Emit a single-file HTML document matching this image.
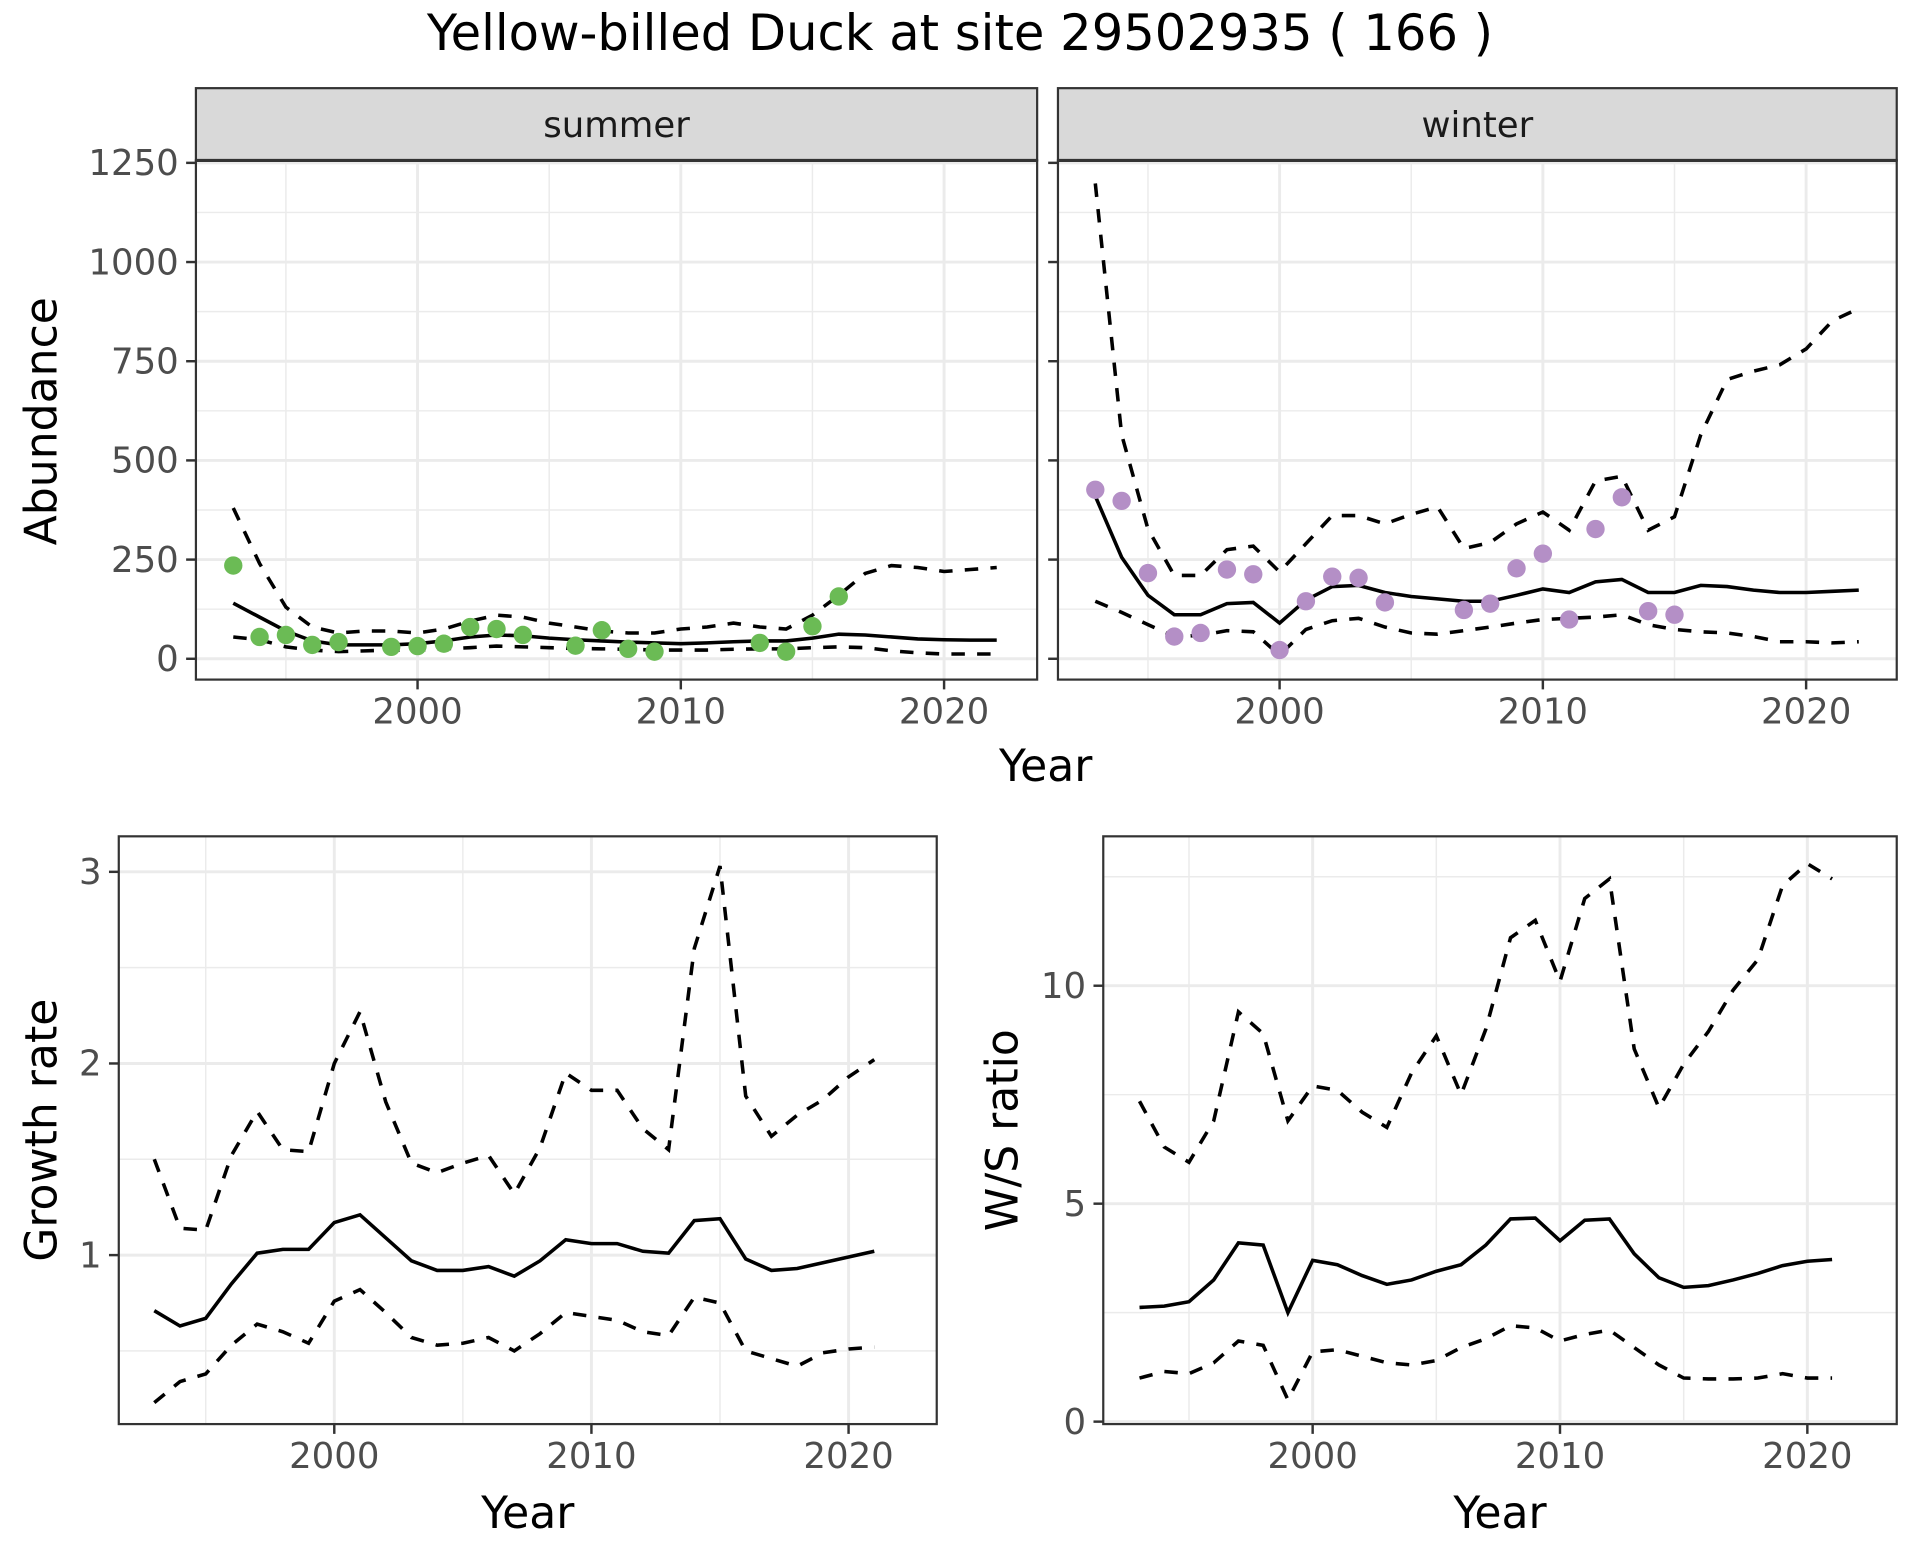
<!DOCTYPE html>
<html><head><meta charset="utf-8"><style>
html,body{margin:0;padding:0;background:#fff;}
svg{display:block;font-family:"DejaVu Sans","Liberation Sans",sans-serif;}
</style></head><body>
<svg id="chart" width="1920" height="1560" viewBox="0 0 1568 1274" xmlns="http://www.w3.org/2000/svg">
<rect width="1568" height="1274" fill="#fff"/>
<text x="784" y="41" font-size="40.5" text-anchor="middle" fill="#000">Yellow-billed Duck at site 29502935 ( 166 )</text>
</svg>
<script>
const yearsAll = [1993,1994,1995,1996,1997,1998,1999,2000,2001,2002,2003,2004,2005,2006,2007,2008,2009,2010,2011,2012,2013,2014,2015,2016,2017,2018,2019,2020,2021,2022];
const summerPtYears = [1993,1994,1995,1996,1997,1999,2000,2001,2002,2003,2004,2006,2007,2008,2009,2013,2014,2015,2016];
const summerPtVals = [235,55,60,35,42,30,32,38,80,75,60,33,72,25,18,40,18,82,157];
const summerMean = [140,105,70,45,35,35,35,38,45,55,60,58,52,48,45,42,40,38,40,43,45,45,52,62,60,55,50,48,47,47];
const summerUpper = [380,240,130,80,65,70,70,65,75,95,110,105,90,80,70,65,65,75,80,90,80,75,110,160,215,235,230,220,225,230];
const summerLower = [55,48,30,22,18,20,22,22,25,28,32,30,28,26,25,24,22,22,22,24,25,25,28,30,28,20,15,12,12,12];
const winterPtYears = [1993,1994,1995,1996,1997,1998,1999,2000,2001,2002,2003,2004,2007,2008,2009,2010,2011,2012,2013,2014,2015];
const winterPtVals = [426,398,216,56,65,225,213,22,145,207,204,142,123,139,228,265,99,327,407,120,111];
const winterMean = [410,256,160,111,111,139,142,90,148,182,185,167,157,151,145,145,160,176,167,194,200,167,167,185,182,173,167,167,170,173];
const winterUpper = [1198,565,327,210,210,275,284,219,290,361,361,340,364,383,278,293,340,370,324,448,460,324,358,565,704,725,741,781,852,883];
const winterLower = [145,117,86,56,59,71,68,9,74,96,102,80,65,62,71,80,90,99,102,105,111,86,74,68,65,56,43,43,40,43];
const abTicks = [0,250,500,750,1000,1250];
const yearTicks = [2000,2010,2020];
const gYears = [1993,1994,1995,1996,1997,1998,1999,2000,2001,2002,2003,2004,2005,2006,2007,2008,2009,2010,2011,2012,2013,2014,2015,2016,2017,2018,2019,2020,2021];
const growthMean = [0.71,0.63,0.67,0.85,1.01,1.03,1.03,1.17,1.21,1.09,0.97,0.92,0.92,0.94,0.89,0.97,1.08,1.06,1.06,1.02,1.01,1.18,1.19,0.98,0.92,0.93,0.96,0.99,1.02];
const growthUpper = [1.5,1.14,1.13,1.52,1.75,1.55,1.54,2.0,2.27,1.8,1.48,1.43,1.48,1.52,1.32,1.56,1.95,1.86,1.86,1.66,1.55,2.6,3.03,1.83,1.62,1.73,1.81,1.93,2.02];
const growthLower = [0.23,0.34,0.38,0.53,0.64,0.6,0.54,0.76,0.82,0.7,0.57,0.53,0.54,0.57,0.5,0.59,0.7,0.68,0.66,0.6,0.58,0.78,0.75,0.5,0.46,0.42,0.49,0.51,0.52];
const growthTicks = [1,2,3];
const wsMean = [2.62,2.65,2.75,3.25,4.1,4.05,2.5,3.7,3.6,3.35,3.15,3.25,3.45,3.6,4.05,4.65,4.67,4.15,4.62,4.65,3.85,3.3,3.08,3.12,3.25,3.4,3.58,3.68,3.72];
const wsUpper = [7.35,6.3,5.95,6.9,9.4,8.9,6.9,7.7,7.6,7.1,6.75,8.0,8.85,7.5,9.0,11.1,11.5,10.1,12.0,12.45,8.55,7.2,8.2,8.95,9.9,10.6,12.3,12.8,12.45];
const wsLower = [1.0,1.15,1.1,1.35,1.85,1.75,0.5,1.6,1.65,1.5,1.35,1.3,1.4,1.7,1.9,2.2,2.15,1.85,2.0,2.1,1.7,1.3,1.0,0.98,0.98,1.0,1.1,1.0,1.0];
const wsTicks = [0,5,10];

const NS = "http://www.w3.org/2000/svg";
const svg = document.getElementById('chart');
const TICKFS = 29;
function mk(tag, attrs, parent){
  const e = document.createElementNS(NS, tag);
  for (const k in attrs) e.setAttribute(k, attrs[k]);
  (parent||svg).appendChild(e);
  return e;
}
function lin(d0,d1,r0,r1){ return v => r0 + (v-d0)*(r1-r0)/(d1-d0); }

function panel(o){
  const g = mk('g', {});
  
  
  const {x0,x1,y0,y1,sx,sy} = o;
  o.xMinor.forEach(v=>{ const x=sx(v); mk('line',{x1:x,x2:x,y1:y0,y2:y1,stroke:'#EBEBEB','stroke-width':1.2},g); });
  o.yMinor.forEach(v=>{ const y=sy(v); if(y>y0&&y<y1) mk('line',{x1:x0,x2:x1,y1:y,y2:y,stroke:'#EBEBEB','stroke-width':1.2},g); });
  o.xTicks.forEach(v=>{ const x=sx(v); mk('line',{x1:x,x2:x,y1:y0,y2:y1,stroke:'#EBEBEB','stroke-width':2.4},g); });
  o.yTicks.forEach(v=>{ const y=sy(v); mk('line',{x1:x0,x2:x1,y1:y,y2:y,stroke:'#EBEBEB','stroke-width':2.4},g); });
  o.lines.forEach(L=>{
    const p = mk('polyline',{points:L.xs.map((v,i)=>sx(v)+','+sy(L.ys[i])).join(' '),fill:'none',stroke:'#000','stroke-width':2.9,'stroke-dasharray':L.dash?'11,10':'none'},g);
    
    
  });
  if (o.pts) o.pts.xs.forEach((v,i)=>{
    const c = mk('circle',{cx:sx(v),cy:sy(o.pts.ys[i]),r:7.5,fill:o.pts.color},g);
    
    
  });
  mk('rect',{x:x0,y:y0,width:x1-x0,height:y1-y0,fill:'none',stroke:'#333','stroke-width':1.8},g);
  o.xTicks.forEach(v=>{ const x=sx(v); mk('line',{x1:x,x2:x,y1:y1,y2:y1+8,stroke:'#333','stroke-width':2},g);
    const t=mk('text',{x:x,y:y1+36,'font-size':TICKFS,fill:'#4D4D4D','text-anchor':'middle'},g); t.textContent=v;
      });
  o.yTicks.forEach(v=>{ const y=sy(v); mk('line',{x1:x0-8,x2:x0,y1:y,y2:y,stroke:'#333','stroke-width':2},g);
    if (o.yLabels){ const t=mk('text',{x:x0-14,y:y+10,'font-size':TICKFS,fill:'#4D4D4D','text-anchor':'end'},g); t.textContent=v;
      } });
  if (o.strip){
    const s = mk('rect',{x:x0,y:72,width:x1-x0,height:y0-72,fill:'#D9D9D9',stroke:'#333','stroke-width':1.8},g);
    
    
    mk('line',{x1:x0,x2:x1,y1:y0,y2:y0,stroke:'#333','stroke-width':2.6},g);
    const t=mk('text',{x:(x0+x1)/2,y:112,'font-size':TICKFS,fill:'#1A1A1A','text-anchor':'middle'},g); t.textContent=o.strip;
     
  }
}

const syTop = lin(0,1250,538,133);
panel({name:'summer-panel',strip:'summer',x0:160,x1:847,y0:131,y1:555,sx:lin(2000,2010,341,556),sy:syTop,
  xTicks:yearTicks,xMinor:[1995,2005,2015],yTicks:abTicks,yMinor:[125,375,625,875,1125],yLabels:true,
  lines:[{name:'summer-mean',xs:yearsAll,ys:summerMean},{name:'summer-upper',xs:yearsAll,ys:summerUpper,dash:1},{name:'summer-lower',xs:yearsAll,ys:summerLower,dash:1}],
  pts:{xs:summerPtYears,ys:summerPtVals,color:'#6BBB55'}});
panel({name:'winter-panel',strip:'winter',x0:864,x1:1549,y0:131,y1:555,sx:lin(2000,2010,1045,1260),sy:syTop,
  xTicks:yearTicks,xMinor:[1995,2005,2015],yTicks:abTicks,yMinor:[125,375,625,875,1125],yLabels:false,
  lines:[{name:'winter-mean',xs:yearsAll,ys:winterMean},{name:'winter-upper',xs:yearsAll,ys:winterUpper,dash:1},{name:'winter-lower',xs:yearsAll,ys:winterLower,dash:1}],
  pts:{xs:winterPtYears,ys:winterPtVals,color:'#B48FC6'}});
panel({name:'growth-panel',x0:97,x1:765,y0:683,y1:1163,sx:lin(2000,2010,273,483),sy:lin(1,3,1025,712),
  xTicks:yearTicks,xMinor:[1995,2005,2015],yTicks:growthTicks,yMinor:[0.5,1.5,2.5],yLabels:true,
  lines:[{name:'growth-mean',xs:gYears,ys:growthMean},{name:'growth-upper',xs:gYears,ys:growthUpper,dash:1},{name:'growth-lower',xs:gYears,ys:growthLower,dash:1}]});
panel({name:'ws-ratio-panel',x0:901,x1:1549,y0:683,y1:1163,sx:lin(2000,2010,1072,1274),sy:lin(0,10,1161,805),
  xTicks:yearTicks,xMinor:[1995,2005,2015],yTicks:wsTicks,yMinor:[2.5,7.5,12.5],yLabels:true,
  lines:[{name:'ws-mean',xs:gYears,ys:wsMean},{name:'ws-upper',xs:gYears,ys:wsUpper,dash:1},{name:'ws-lower',xs:gYears,ys:wsLower,dash:1}]});

function label(txt,x,y,rot,name){
  const t=mk('text',{x:x,y:y,'font-size':36,fill:'#000','text-anchor':'middle',transform:rot?`rotate(-90 ${x} ${y})`:''});
  t.textContent=txt;
  
  
}
label('Year',854,638,false,'top-x-axis-title');
label('Abundance',46,344,true,'abundance-y-axis-title');
label('Year',431,1248,false,'growth-x-axis-title');
label('Growth rate',46,923,true,'growth-y-axis-title');
label('Year',1225,1248,false,'ws-x-axis-title');
label('W/S ratio',831,923,true,'ws-y-axis-title');
</script>
</body></html>
